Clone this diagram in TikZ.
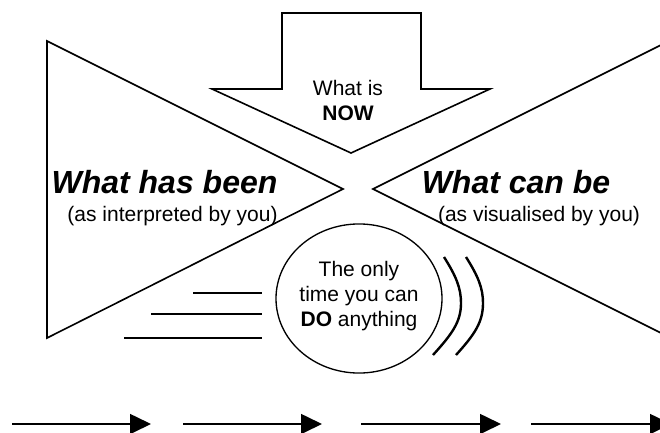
\documentclass[tikz,border=0pt]{standalone}
\usepackage{fontspec}
\setmainfont{Liberation Sans}
\usetikzlibrary{arrows.meta}

\tikzset{every picture/.style={line width=0.75pt}}
\tikzset{
  outline/.style={line width=1.2pt},
  wave/.style={line width=1.8pt},
  smalltxt/.style={inner sep=0.75pt, align=center, font=\fontsize{15.75}{18.75}\selectfont},
  bigtxt/.style={inner sep=0.75pt, font=\fontsize{24}{28}\selectfont\bfseries\itshape},
  timeline/.style={line width=1.2pt, -{Triangle[length=15.75pt,width=15pt]}}
}

\begin{document}
\begin{tikzpicture}[x=0.75pt,y=0.75pt,yscale=-1,xscale=1]
\useasboundingbox (0,0) rectangle (660,432);
\clip (0,0) rectangle (660,432);

%Shape: Left Triangle
\draw [outline]   (47,41) -- (343,189) -- (47,338) -- cycle ;
%Shape: Right Triangle
\draw [outline]   (373,189) -- (669,41) -- (669,337) -- cycle ;
%Shape: Down Arrow
\draw [outline]   (282,13) -- (421,13) -- (421,89) -- (490,89) -- (351,153) -- (212,89) -- (282,89) -- cycle ;

%Shape: Ellipse
\draw [line width=1pt]  (359,298.5) ellipse [x radius=62.25pt, y radius=55.9pt] ;

%Straight Lines
\draw [outline]   (193,293) -- (262,293) ;
%Straight Lines
\draw [outline]   (151,314) -- (262,314) ;
%Straight Lines
\draw [outline]   (124,338) -- (262,338) ;

%Curve Lines
\draw [wave]   (444,257) .. controls (456,276) and (461,288) .. (461,303) .. controls (461,322) and (452,334) .. (433,355) ;
%Curve Lines
\draw [wave]   (466,257) .. controls (478,276) and (483,288) .. (483,303) .. controls (483,322) and (475,334) .. (456,355) ;

% Text Node
\node (now) [smalltxt] at (348,100) {What is\\\textbf{NOW}};
% Text Node
\node (past) [bigtxt, anchor=base] at (164.5,193) {What has been};
% Text Node
\node (pastnote) [smalltxt, anchor=base] at (172.5,221) {(as interpreted by you)};
% Text Node
\node (future) [bigtxt, anchor=base] at (516,193) {What can be};
% Text Node
\node (futurenote) [smalltxt, anchor=base] at (539,221) {(as visualised by you)};
% Text Node
\node (doit) [smalltxt] at (359,296.5) {The only\\time you can\\\textbf{DO} anything};

%Time Arrows
\coordinate (t1a) at (12,424);
\coordinate (t1b) at (151,424);
\coordinate (t2a) at (183,424);
\coordinate (t2b) at (322,424);
\coordinate (t3a) at (361,424);
\coordinate (t3b) at (501,424);
\coordinate (t4a) at (531,424);
\coordinate (t4b) at (671,424);
\draw [timeline]   (t1a) -- (t1b) ;
\draw [timeline]   (t2a) -- (t2b) ;
\draw [timeline]   (t3a) -- (t3b) ;
\draw [timeline]   (t4a) -- (t4b) ;

\end{tikzpicture}
\end{document}
